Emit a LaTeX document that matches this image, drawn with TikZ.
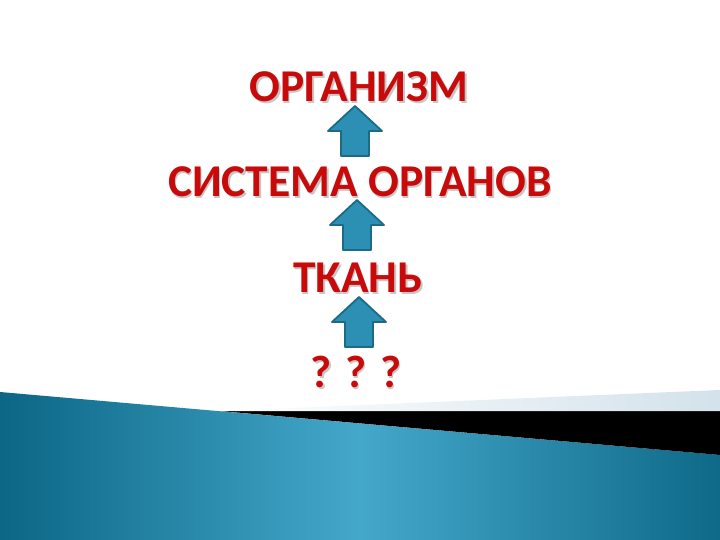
\documentclass[tikz,border=0pt]{standalone}
\usepackage{fontspec}
\setmainfont{Carlito}
\definecolor{titlered}{HTML}{C80A0A}
\definecolor{arrowfill}{HTML}{2B90B4}
\definecolor{arrowline}{HTML}{1D6A86}
\definecolor{tealdark}{HTML}{0C6685}
\definecolor{teallight}{HTML}{44A8CB}
\definecolor{paleblue}{HTML}{D3E2EB}
\tikzset{
  level/.style={text=titlered, font=\fontsize{45.5}{50}\selectfont\bfseries, inner sep=0pt},
  levelshadow/.style={text=black!22, font=\fontsize{45.5}{50}\selectfont\bfseries, inner sep=0pt},
  blockarrow/.style={fill=arrowfill, draw=arrowline, line width=1.8pt, line join=round}
}
% block arrow pointing up, tip at (#1,#2)
\newcommand{\upblock}[2]{%
  \filldraw[blockarrow] (#1,#2) -- ++(27,25) -- ++(-13,0) -- ++(0,25) -- ++(-28,0)
    -- ++(0,-25) -- ++(-13,0) -- cycle;}
\begin{document}
\begin{tikzpicture}[x=1pt,y=-1pt]
    \useasboundingbox (0,0) rectangle (720,540);
    \fill[white] (0,0) rectangle (720,540);

    % Fond en bas
    \shade[left color=tealdark, right color=tealdark!95!teallight, middle color=teallight]
      (0,392) -- (720,455) -- (720,540) -- (0,540) -- cycle;
    \fill[black] (220,411) -- (720,411) -- (720,455) -- cycle;
    \shade[left color=white, right color=paleblue] (220,411) -- (720,390) -- (720,411) -- cycle;

    % Niveaux
    \node[levelshadow] at (360.5,88.5) {ОРГАНИЗМ};
    \node[level] (organism) at (359,87) {ОРГАНИЗМ};
    \node[levelshadow] at (361.5,183.5) {СИСТЕМА ОРГАНОВ};
    \node[level] (system) at (360,182) {СИСТЕМА ОРГАНОВ};
    \node[levelshadow] at (359.5,279.5) {ТКАНЬ};
    \node[level] (tissue) at (358,278) {ТКАНЬ};
    \node[levelshadow] at (357.5,373.5) {? ? ?};
    \node[level] (unknown) at (356,372) {? ? ?};

    % Fleches
    \upblock{355}{106}
    \upblock{357}{200}
    \upblock{359}{297}
\end{tikzpicture}
\end{document}
